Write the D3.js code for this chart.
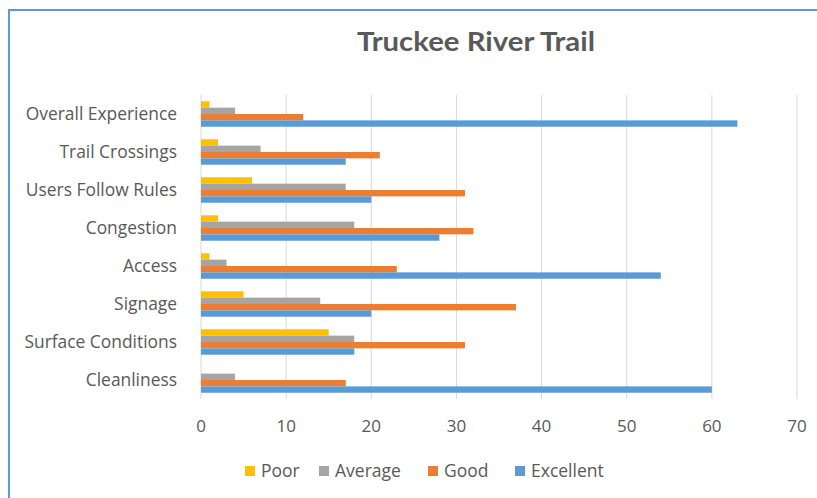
<!DOCTYPE html>
<html>
<head>
<meta charset="utf-8">
<script src="https://cdn.jsdelivr.net/npm/d3@7"></script>
<style>
  body { margin: 0; background: #fff; }
  svg { display: block; font-family: "Open Sans", Lato, sans-serif; }
</style>
</head>
<body>
<svg id="chart"></svg>
<script>
// data
const categories = ['Overall Experience', 'Trail Crossings', 'Users Follow Rules', 'Congestion',
                    'Access', 'Signage', 'Surface Conditions', 'Cleanliness'];
const seriesNames = ['Poor', 'Average', 'Good', 'Excellent'];
const poor      = [1, 2, 6, 2, 1, 5, 15, 0];
const average   = [4, 7, 17, 18, 3, 14, 18, 4];
const good      = [12, 21, 31, 32, 23, 37, 31, 17];
const excellent = [63, 17, 20, 28, 54, 20, 18, 60];
const xTicks = [0, 10, 20, 30, 40, 50, 60, 70];

const seriesValues = [poor, average, good, excellent];
const colors = ['#FFC000', '#A5A5A5', '#ED7D31', '#5B9BD5'];

const width = 817;
const height = 498;

const svg = d3.select('#chart')
    .attr('width', width)
    .attr('height', height);

// chart frame (only top and left edge show in the picture)
svg.append('rect')
    .attr('x', 9).attr('y', 10)
    .attr('width', width).attr('height', height)
    .attr('fill', 'none')
    .attr('stroke', '#5B9BD5')
    .attr('stroke-width', 2);

// title
svg.append('text')
    .attr('x', 476).attr('y', 51)
    .attr('text-anchor', 'middle')
    .attr('font-family', 'Lato, sans-serif')
    .attr('font-size', 27)
    .attr('font-weight', 'bold')
    .attr('fill', '#595959')
    .attr('textLength', 238)
    .attr('lengthAdjust', 'spacingAndGlyphs')
    .text('Truckee River Trail');

const x = d3.scaleLinear().domain([0, 70]).range([201, 797]);
const y = d3.scaleBand().domain(categories).range([95, 399])
    .paddingInner(0.33).paddingOuter(0.165);
const ySub = d3.scaleBand().domain(seriesNames).range([0, y.bandwidth()]);

// gridlines
svg.append('g')
    .selectAll('line')
    .data(xTicks)
    .join('line')
    .attr('x1', d => x(d)).attr('x2', d => x(d))
    .attr('y1', 95).attr('y2', 399)
    .attr('stroke', '#D9D9D9')
    .attr('stroke-width', 1);

// x tick labels
svg.append('g')
    .selectAll('text')
    .data(xTicks)
    .join('text')
    .attr('x', d => x(d))
    .attr('y', 432)
    .attr('text-anchor', 'middle')
    .attr('font-size', 17)
    .attr('fill', '#595959')
    .text(d => d);

// category labels
svg.append('g')
    .selectAll('text')
    .data(categories)
    .join('text')
    .attr('x', 177)
    .attr('y', d => y(d) + y.bandwidth() / 2 + 6)
    .attr('text-anchor', 'end')
    .attr('font-size', 17.4)
    .attr('fill', '#595959')
    .text(d => d);

// bars, one group per series
const groups = svg.append('g')
    .selectAll('g')
    .data(seriesNames)
    .join('g')
    .attr('fill', (d, i) => colors[i]);

groups.selectAll('rect')
    .data((s, i) => categories.map((c, j) => ({ cat: c, series: s, value: seriesValues[i][j] })))
    .join('rect')
    .attr('x', x(0))
    .attr('y', d => y(d.cat) + ySub(d.series))
    .attr('width', d => x(d.value) - x(0))
    .attr('height', ySub.bandwidth());

// legend
const legendX = [245, 319, 428, 515];
const legend = svg.append('g')
    .selectAll('g')
    .data(seriesNames)
    .join('g')
    .attr('transform', (d, i) => `translate(${legendX[i]},466)`);

legend.append('rect')
    .attr('width', 10).attr('height', 10)
    .attr('fill', (d, i) => colors[i]);

legend.append('text')
    .attr('x', 16).attr('y', 10.5)
    .attr('font-size', 17.5)
    .attr('fill', '#595959')
    .text(d => d);
</script>
</body>
</html>
